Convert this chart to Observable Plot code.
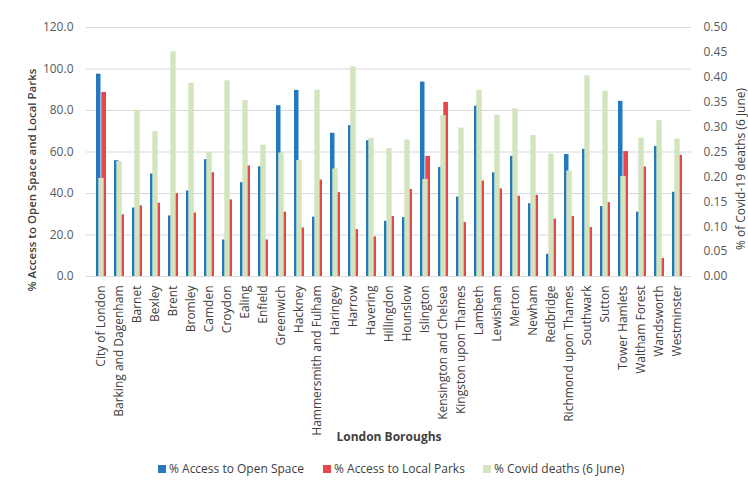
<!DOCTYPE html>
<html>
<head>
<meta charset="utf-8">
<script src="https://cdn.jsdelivr.net/npm/d3@7"></script>
<script src="https://cdn.jsdelivr.net/npm/@observablehq/plot@0.6"></script>
<style>
  body { margin: 0; background: #fff; font-family: "Open Sans", sans-serif; }
  #wrap { width: 748px; position: relative; }
  #legend { position: relative; height: 27px; width: 748px; font-size: 12px; color: #404040; }
  .item { position: absolute; top: 5px; display: flex; align-items: center; white-space: nowrap; }
  .sw { width: 8px; height: 8px; margin-right: 3px; display: inline-block; }
</style>
</head>
<body>
<div id="wrap"></div>
<script>
const boroughs = ["City of London","Barking and Dagenham","Barnet","Bexley","Brent","Bromley","Camden","Croydon","Ealing","Enfield","Greenwich","Hackney","Hammersmith and Fulham","Haringey","Harrow","Havering","Hillingdon","Hounslow","Islington","Kensington and Chelsea","Kingston upon Thames","Lambeth","Lewisham","Merton","Newham","Redbridge","Richmond upon Thames","Southwark","Sutton","Tower Hamlets","Waltham Forest","Wandsworth","Westminster"];
const openSpace = [97.5,55.8,33.0,49.4,29.2,41.2,56.3,17.6,45.2,52.9,82.3,89.7,28.6,69.0,72.7,65.4,26.6,28.4,93.7,52.5,38.3,82.1,50.0,57.9,35.1,10.7,58.8,61.3,33.7,84.4,31.0,62.7,40.6];
const localParks = [88.7,29.7,34.0,35.3,39.9,30.6,50.0,36.9,53.3,17.6,31.0,23.4,46.5,40.4,22.6,19.1,28.9,41.9,57.9,83.9,26.0,46.0,42.2,38.7,39.1,27.7,28.9,23.6,35.6,60.2,52.8,8.7,58.4];
const covidDeaths = [0.197,0.231,0.334,0.291,0.451,0.388,0.249,0.393,0.353,0.264,0.248,0.233,0.374,0.216,0.421,0.277,0.257,0.274,0.195,0.323,0.298,0.374,0.324,0.337,0.283,0.246,0.212,0.403,0.372,0.201,0.278,0.313,0.276];
const leftTicks = [0,20,40,60,80,100,120];
const rightTicks = [0,0.05,0.10,0.15,0.20,0.25,0.30,0.35,0.40,0.45,0.50];
const seriesNames = ["% Access to Open Space","% Access to Local Parks","% Covid deaths (6 June)"];
const colors = ["#2478C0","#E5474A","#D3E5BE"];

const k = 120 / 0.5; // secondary axis 0..0.5 maps onto primary 0..120
const rows = boroughs.map((b, i) => ({borough: b, open: openSpace[i], parks: localParks[i], covid: covidDeaths[i]}));

const chart = Plot.plot({
  width: 748,
  height: 455,
  marginLeft: 86,
  marginRight: 57,
  marginTop: 27,
  marginBottom: 179,
  style: {fontFamily: "Open Sans", fontSize: "12px", color: "#595959", background: "#fff"},
  x: {domain: boroughs, padding: 0, label: null},
  y: {domain: [0, 120], label: null},
  marks: [
    Plot.gridY(leftTicks, {stroke: "#d9d9d9", strokeOpacity: 1}),
    Plot.axisY(leftTicks, {tickSize: 0, tickPadding: 13, tickFormat: d => d.toFixed(1), label: null, fontSize: 12}),
    Plot.axisY(rightTicks.map(v => v * k), {anchor: "right", tickSize: 0, tickPadding: 12, tickFormat: d => (d / k).toFixed(2), label: null, fontSize: 12}),
    Plot.axisX({tickSize: 0, tickRotate: -90, tickPadding: 9, label: null, fontSize: 12, fill: "#404040"}),
    Plot.barY(rows, {x: "borough", y: "open", fill: colors[0], insetLeft: 4, insetRight: 9.5}),
    Plot.barY(rows, {x: "borough", y: "parks", fill: colors[1], insetLeft: 9.3, insetRight: 4}),
    Plot.barY(rows, {x: "borough", y: d => d.covid * k, fill: colors[2], insetLeft: 6.3, insetRight: 6.3}),
    Plot.text(["% Access to Open Space and Local Parks"], {text: d => d, frameAnchor: "left", textAnchor: "middle", dx: -54, dy: 28, rotate: -90, fontWeight: 600, fontSize: 11.5, fill: "#404040"}),
    Plot.text(["% of Covid-19 deaths (6 June)"], {text: d => d, frameAnchor: "right", textAnchor: "middle", dx: 50, dy: 17, rotate: -90, fontSize: 12, fill: "#404040"}),
    Plot.text(["London Boroughs"], {text: d => d, frameAnchor: "bottom", dy: 164, fontWeight: "bold", fontSize: 12, fill: "#404040"})
  ]
});

const wrap = document.getElementById("wrap");
wrap.appendChild(chart);
const legend = document.createElement("div");
legend.id = "legend";
const lefts = [158, 323, 483];
seriesNames.forEach((name, i) => {
  const it = document.createElement("div");
  it.className = "item";
  it.style.left = lefts[i] + "px";
  it.innerHTML = `<span class="sw" style="background:${colors[i]}"></span><span>${name}</span>`;
  legend.appendChild(it);
});
wrap.appendChild(legend);
</script>
</body>
</html>
